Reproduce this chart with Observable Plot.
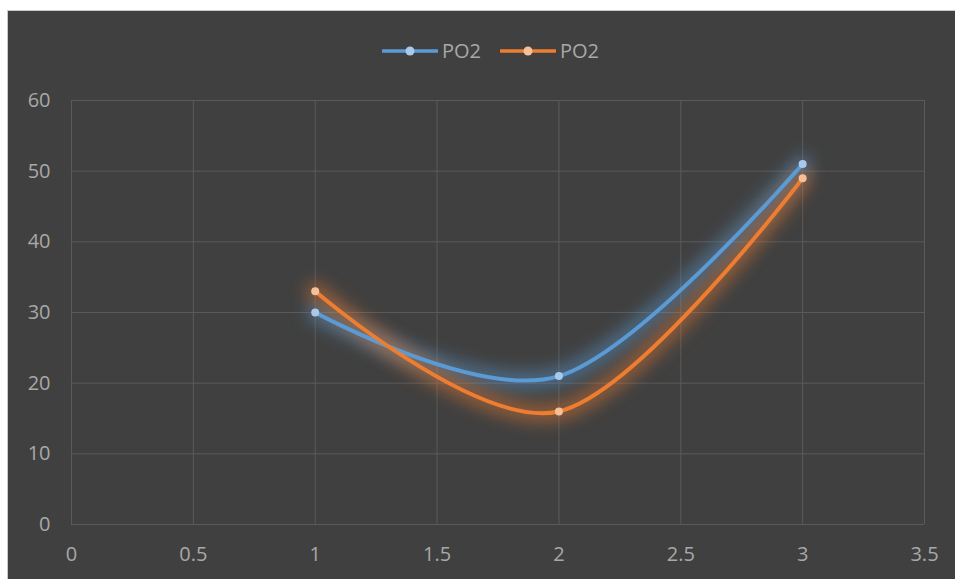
<!DOCTYPE html>
<html><head><meta charset="utf-8">
<script src="https://cdn.jsdelivr.net/npm/d3@7"></script>
<script src="https://cdn.jsdelivr.net/npm/@observablehq/plot@0.6"></script>
<style>
body{margin:0;background:#fff;font-family:"Open Sans",sans-serif;}
#frame{position:absolute;left:7px;top:10px;width:948px;height:569px;background:#404040;border-top:1px solid #c9c9c9;border-left:1px solid #c9c9c9;box-sizing:border-box;overflow:hidden;}
#legend{position:absolute;left:374px;top:26px;display:flex;align-items:center;color:#a8a8a8;font-size:20px;}
#legend .item{display:flex;align-items:center;margin-right:19px;}
#legend svg{margin-right:4px;}
#chart{position:absolute;left:0;top:75px;}
</style></head>
<body>
<div id="frame"><div id="legend"></div><div id="chart"></div></div>
<script>
const xValues = [1, 2, 3];
const seriesNames = ["PO2", "PO2"];
const seriesA = [30, 21, 51];
const seriesB = [33, 16, 49];
const lineColors = ["#5b9bd5", "#ed7d31"];
const dotColors = ["#a9c9ec", "#f6bf98"];
const xTicks = [0, 0.5, 1, 1.5, 2, 2.5, 3, 3.5];
const yTicks = [0, 10, 20, 30, 40, 50, 60];

const rows = [];
[seriesA, seriesB].forEach((vals, s) => {
  xValues.forEach((x, i) => rows.push({x, y: vals[i], s}));
});
const rowsA = rows.filter(d => d.s === 0);
const rowsB = rows.filter(d => d.s === 1);

// legend
const legend = document.getElementById("legend");
seriesNames.forEach((name, i) => {
  const item = document.createElement("div");
  item.className = "item";
  item.innerHTML = `<svg width="56" height="12"><line x1="1" x2="55" y1="6" y2="6" stroke="${lineColors[i]}" stroke-width="3.5" stroke-linecap="round"/><circle cx="28" cy="6" r="4.5" fill="${dotColors[i]}"/></svg><span>${name}</span>`;
  legend.appendChild(item);
});

const chart = Plot.plot({
  width: 947, height: 493,
  marginTop: 14, marginBottom: 55, marginLeft: 63, marginRight: 31,
  style: {background: "transparent", color: "#a8a8a8", fontFamily: "Open Sans, sans-serif", fontSize: "20px"},
  x: {domain: [0, 3.5]},
  y: {domain: [0, 60]},
  marks: [
    Plot.gridX(xTicks, {stroke: "#5a5a5a", strokeOpacity: 1}),
    Plot.gridY(yTicks, {stroke: "#5a5a5a", strokeOpacity: 1}),
    Plot.axisX(xTicks, {tickSize: 0, tickPadding: 22, tickFormat: d => String(d), label: null, fontSize: 20}),
    Plot.axisY(yTicks, {tickSize: 0, tickPadding: 21, tickFormat: d => String(d), label: null, fontSize: 20}),
    Plot.line(rowsA, {x: "x", y: "y", curve: "cardinal", stroke: lineColors[0], strokeWidth: 19, strokeOpacity: 0.45, strokeLinecap: "round"}),
    Plot.line(rowsB, {x: "x", y: "y", curve: "cardinal", stroke: lineColors[1], strokeWidth: 19, strokeOpacity: 0.45, strokeLinecap: "round"}),
    Plot.line(rowsA, {x: "x", y: "y", curve: "cardinal", stroke: lineColors[0], strokeWidth: 4, strokeLinecap: "round"}),
    Plot.line(rowsB, {x: "x", y: "y", curve: "cardinal", stroke: lineColors[1], strokeWidth: 4, strokeLinecap: "round"}),
    Plot.dot(rowsA, {x: "x", y: "y", r: 4, fill: dotColors[0]}),
    Plot.dot(rowsB, {x: "x", y: "y", r: 4, fill: dotColors[1]})
  ]
});
chart.querySelectorAll('[stroke-width="19"]').forEach(g => { g.style.filter = "blur(8px)"; });
document.getElementById("chart").appendChild(chart);
</script>
</body></html>
